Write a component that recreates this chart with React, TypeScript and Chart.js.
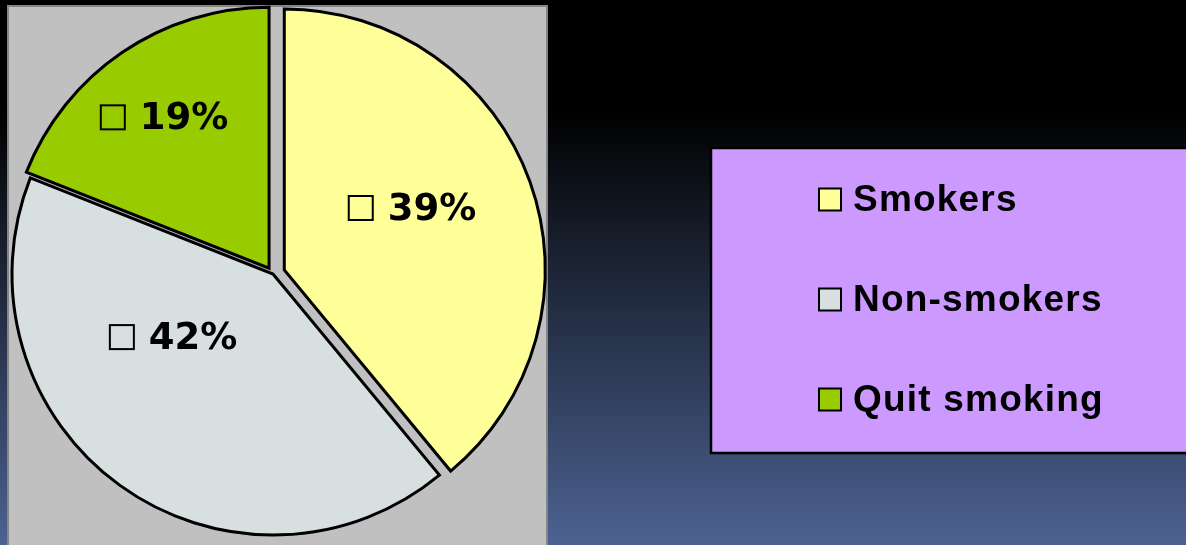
import React, { useEffect, useRef } from 'react';
import { Chart, registerables } from 'chart.js';

Chart.register(...registerables);

// ---- data ----
const categories = ['Smokers', 'Non-smokers', 'Quit smoking'];
const shares = [39, 42, 19];
const percentLabels = shares.map((v) => `${v}%`);

const sliceColors = ['#FFFF99', '#D7DFE1', '#99CC00'];

const W = 1186;
const H = 545;

const backdropPlugin = {
  id: 'backdrop',
  beforeDraw(chart: any) {
    const ctx = chart.ctx as CanvasRenderingContext2D;
    ctx.save();
    const g = ctx.createLinearGradient(0, 0, 0, H);
    g.addColorStop(0, '#000000');
    g.addColorStop(110 / H, '#000000');
    g.addColorStop(1, 'rgb(76,98,145)');
    ctx.fillStyle = g;
    ctx.fillRect(0, 0, W, H);
    // grey plot panel
    ctx.fillStyle = '#858585';
    ctx.fillRect(7, 5, 541, H);
    ctx.fillStyle = '#c0c0c0';
    ctx.fillRect(9, 7, 537, H);
    ctx.restore();
  },
};

const explodePlugin = {
  id: 'explode',
  beforeDatasetDraw(chart: any, args: any, opts: any) {
    const ctx = chart.ctx as CanvasRenderingContext2D;
    const offsets: number[] = opts.offsets || [];
    args.meta.data.forEach((arc: any, i: number) => {
      const d = offsets[i] || 0;
      const mid = (arc.startAngle + arc.endAngle) / 2;
      ctx.save();
      ctx.translate(Math.cos(mid) * d, Math.sin(mid) * d);
      arc.draw(ctx, chart.chartArea);
      ctx.restore();
    });
    return false;
  },
};

const sliceLabelPlugin = {
  id: 'sliceLabels',
  afterDatasetsDraw(chart: any, _args: any, opts: any) {
    const ctx = chart.ctx as CanvasRenderingContext2D;
    const meta = chart.getDatasetMeta(0);
    const offsets: number[] = chart.options.plugins.explode.offsets || [];
    const place: { along: number; radial: number }[] = opts.placement;
    const texts: string[] = opts.texts;
    ctx.save();
    meta.data.forEach((arc: any, i: number) => {
      const d = offsets[i] || 0;
      const mid = (arc.startAngle + arc.endAngle) / 2;
      const cx = arc.x + Math.cos(mid) * d;
      const cy = arc.y + Math.sin(mid) * d;
      const p = place[i];
      const a = arc.startAngle + (arc.endAngle - arc.startAngle) * p.along;
      const r = arc.outerRadius * p.radial;
      const px = cx + Math.cos(a) * r;
      const py = cy + Math.sin(a) * r;
      ctx.font = opts.font;
      const text = texts[i];
      const tw = ctx.measureText(text).width;
      const box = opts.box;
      const gap = opts.gap;
      const total = box + gap + tw;
      const x0 = px - total / 2;
      ctx.lineWidth = 2;
      ctx.strokeStyle = '#000';
      ctx.strokeRect(x0, py - box / 2 - 1, box, box);
      ctx.fillStyle = '#000';
      ctx.textAlign = 'left';
      ctx.textBaseline = 'middle';
      ctx.fillText(text, x0 + box + gap, py + 1);
    });
    ctx.restore();
  },
};

const legendBoxPlugin = {
  id: 'legendBox',
  afterDraw(chart: any, _args: any, opts: any) {
    const ctx = chart.ctx as CanvasRenderingContext2D;
    const labels: string[] = chart.data.labels;
    const colors: string[] = chart.data.datasets[0].backgroundColor;
    ctx.save();
    ctx.fillStyle = '#CC99FF';
    ctx.fillRect(opts.left, opts.top, W - opts.left + 10, opts.height);
    ctx.lineWidth = 2.5;
    ctx.strokeStyle = '#000';
    ctx.strokeRect(opts.left, opts.top, W - opts.left + 10, opts.height);
    ctx.font = opts.font;
    (ctx as any).letterSpacing = opts.letterSpacing;
    ctx.textAlign = 'left';
    ctx.textBaseline = 'middle';
    labels.forEach((lab, i) => {
      const y = opts.firstRow + i * opts.rowGap;
      ctx.fillStyle = colors[i];
      ctx.fillRect(opts.swatchX, y - 11, 22, 22);
      ctx.lineWidth = 2;
      ctx.strokeStyle = '#000';
      ctx.strokeRect(opts.swatchX, y - 11, 22, 22);
      ctx.fillStyle = '#000';
      ctx.fillText(lab, opts.textX, y + 1);
    });
    ctx.restore();
  },
};

export default function App() {
  const ref = useRef<HTMLCanvasElement | null>(null);

  useEffect(() => {
    if (!ref.current) return;
    const chart = new Chart(ref.current, {
      type: 'pie',
      data: {
        labels: categories,
        datasets: [
          {
            data: shares,
            backgroundColor: sliceColors,
            borderColor: '#000000',
            borderWidth: 3,
            borderJoinStyle: 'miter',
          } as any,
        ],
      },
      options: {
        responsive: false,
        maintainAspectRatio: false,
        animation: false,
        events: [],
        radius: 261,
        layout: { padding: { left: 0, right: 640, top: 3, bottom: 0 } },
        plugins: {
          legend: { display: false },
          tooltip: { enabled: false },
          explode: { offsets: [12, 0, 7] },
          sliceLabels: {
            texts: percentLabels,
            placement: [
              { along: 0.46, radial: 0.544 },
              { along: 0.64, radial: 0.453 },
              { along: 0.49, radial: 0.7 },
            ],
            font: 'bold 37px "DejaVu Sans"',
            box: 24,
            gap: 15,
          },
          legendBox: {
            left: 711,
            top: 148,
            height: 305,
            swatchX: 819,
            textX: 853,
            firstRow: 199.5,
            rowGap: 100,
            font: 'bold 37px "Liberation Sans", Arial, sans-serif',
            letterSpacing: '1.2px',
          },
        } as any,
      } as any,
      plugins: [backdropPlugin, explodePlugin, sliceLabelPlugin, legendBoxPlugin],
    });
    return () => chart.destroy();
  }, []);

  return (
    <div style={{ position: 'fixed', left: 0, top: 0, width: W, height: H, overflow: 'hidden', background: '#000' }}>
      <canvas ref={ref} width={W} height={H} style={{ display: 'block', width: W, height: H }} />
    </div>
  );
}
